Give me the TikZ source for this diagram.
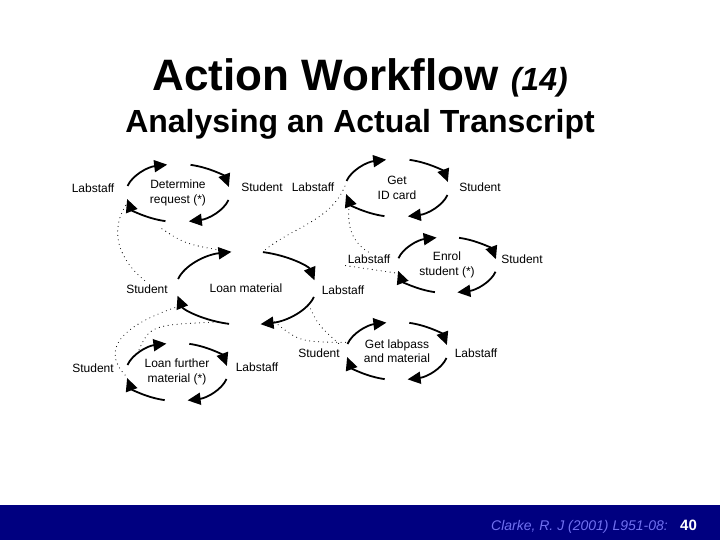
\documentclass[tikz,border=0pt]{standalone}
\usepackage{fontspec}
\setmainfont{Liberation Sans}
\usetikzlibrary{arrows.meta,calc,shapes.geometric}
\definecolor{bandblue}{RGB}{0,0,128}
\definecolor{citeblue}{RGB}{112,112,240}
\tikzset{loopnode/.style={ellipse,inner sep=0pt,align=center,font=\fontsize{12}{14.5}\selectfont},
         actor/.style={inner sep=2pt,font=\fontsize{12}{14}\selectfont},
         loopline/.style={line width=1.8pt,-{Triangle[length=13pt,width=12pt]}},
         link/.style={line width=1.1pt,line cap=round,dash pattern=on 0pt off 4.5pt}}
% four arrowed arcs round loop node #1, radii #2 and #3
\newcommand{\wfloop}[3]{%
  \foreach \a in {180,90,0,-90}
    \draw[loopline] ($(#1.center)+(\a-14:#2 and #3)$) arc[start angle=\a-14,end angle=\a-78,x radius=#2,y radius=#3];}

\begin{document}
\begin{tikzpicture}[x=1pt,y=1pt]
        \useasboundingbox (0,0) rectangle (720,540);
        % title and footer band
        \node[anchor=base] (t1) at (360,449) {\fontsize{44}{48}\selectfont\bfseries Action Workflow \fontsize{32}{36}\selectfont\itshape(14)};
        \node[anchor=base] (t2) at (360,407) {\fontsize{32}{36}\selectfont\bfseries Analysing an Actual Transcript};
        \fill[bandblue] (0,0) rectangle (720,35);
        \node[anchor=base east,inner sep=0pt,text=citeblue] (cite) at (668,9) {\fontsize{14}{16}\selectfont\itshape Clarke, R. J (2001) L951-08:};
        \node[anchor=base west,inner sep=0pt,text=white] (pg) at (680,9) {\fontsize{15}{17}\selectfont\bfseries 40};

        % the loops
        \node[loopnode,minimum width=104pt,minimum height=58pt] (c1) at (178,347) {Determine\\request (*)};
        \node[loopnode,minimum width=104pt,minimum height=58pt] (c2) at (397,352) {Get\\ID card};
        \node[loopnode,minimum width=140pt,minimum height=74pt] (c3) at (246,252) {Loan material};
        \node[loopnode,minimum width=100pt,minimum height=56pt] (c4) at (447,275) {Enrol\\student (*)};
        \node[loopnode,minimum width=102pt,minimum height=58pt] (c5) at (177,168) {Loan further\\material (*)};
        \node[loopnode,minimum width=102pt,minimum height=58pt] (c6) at (397,189) {Get labpass\\and material};

        \wfloop{c1}{52}{29}
        \wfloop{c2}{52}{29}
        \wfloop{c3}{70}{37}
        \wfloop{c4}{50}{28}
        \wfloop{c5}{51}{29}
        \wfloop{c6}{51}{29}

        % customer and performer of each loop
        \node[actor] (l1) at (93,352) {Labstaff};
        \node[actor] (r1) at (262,353) {Student};
        \node[actor] (l2) at (313,353) {Labstaff};
        \node[actor] (r2) at (480,353) {Student};
        \node[actor] (l3) at (147,251) {Student};
        \node[actor] (r3) at (343,250) {Labstaff};
        \node[actor] (l4) at (369,281) {Labstaff};
        \node[actor] (r4) at (522,281) {Student};
        \node[actor] (l5) at (93,172) {Student};
        \node[actor] (r5) at (257,173) {Labstaff};
        \node[actor] (l6) at (319,187) {Student};
        \node[actor] (r6) at (476,187) {Labstaff};

        % dotted links between loops
        \draw[link] (c1.190) .. controls (108,310) and (118,280) .. (l3.north);
        \draw[link] ([yshift=-8pt]c1.240) .. controls (185,296) .. (c3.115);
        \draw[link] (c2.178) .. controls (330,318) and (290,312) .. (c3.65);
        \draw[link] (c2.195) .. controls (345,310) and (355,296) .. (l4.north);
        \draw[link] (l4.south west) -- (c4.190);
        \draw[link] (c3.345) .. controls (318,215) .. (l6.north east);
        \draw[link] (c3.310) .. controls (300,198) .. (c6.170);
        \draw[link] (c3.195) .. controls (120,215) and (100,190) .. (c5.185);
        \draw[link] (c3.230) .. controls (150,215) .. (c5.155);

      \end{tikzpicture}
\end{document}
